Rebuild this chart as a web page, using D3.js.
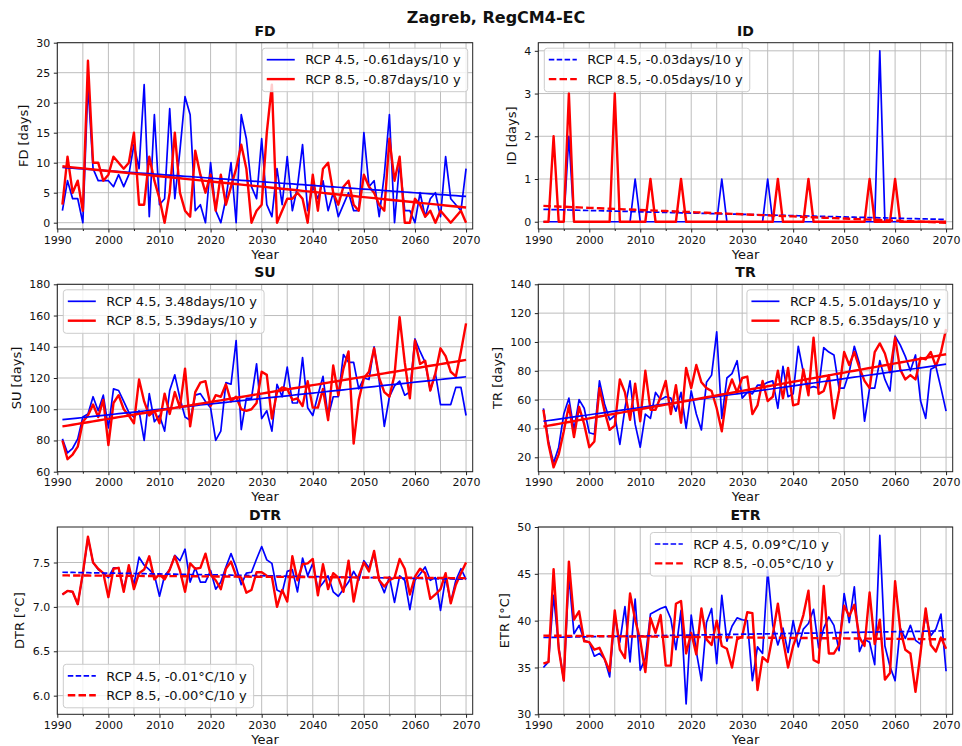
<!DOCTYPE html>
<html>
<head>
<meta charset="utf-8">
<script src="https://cdn.jsdelivr.net/npm/d3@7"></script>
<style>
  body { margin: 0; background: #fff; }
  text { font-family: "DejaVu Sans", sans-serif; fill: #111; }
</style>
</head>
<body>
<script>
// years of the series
const years = d3.range(1991, 2071);
const xTicks = [1990, 2000, 2010, 2020, 2030, 2040, 2050, 2060, 2070];
const xGrid = d3.range(1990, 2071, 5);

// FD - frost days
const fd45 = [2, 7, 4, 4, 0, 23, 9, 7, 7, 7,
  6, 8, 6, 8, 13, 9, 23, 1, 18, 3,
  4, 19, 4, 12, 21, 18, 2, 3, 0, 10,
  2, 0, 4, 10, 0, 18, 14, 6, 4, 14,
  3, 1, 9, 3, 11, 2, 6, 13, 2, 6,
  4, 7, 2, 5, 1, 3, 5, 2, 2, 15,
  6, 7, 1, 8, 18, 0, 10, 2, 2, 0,
  5, 1, 4, 5, 1, 11, 4, 3, 2, 9];
const fd85 = [3, 11, 5, 7, 2, 27, 10, 10, 7, 8,
  11, 10, 9, 10, 15, 3, 3, 11, 7, 4,
  0, 5, 15, 5, 2, 1, 12, 8, 5, 8,
  2, 8, 3, 6, 9, 13, 9, 0, 2, 3,
  15, 23, 0, 2, 4, 4, 5, 4, 0, 8,
  2, 9, 10, 5, 3, 6, 7, 3, 2, 8,
  6, 5, 3, 2, 14, 7, 11, 0, 0, 4,
  3, 1, 2, 0, 2, 1, 0, 1, 2, 0];

// ID - ice days
const id45 = [0, 0, 0, 0, 0, 2, 0, 0, 0, 0,
  0, 0, 0, 0, 0, 0, 0, 0, 1, 0,
  0, 0, 0, 0, 0, 0, 0, 0, 0, 0,
  0, 0, 0, 0, 0, 1, 0, 0, 0, 0,
  0, 0, 0, 0, 1, 0, 0, 0, 0, 0,
  0, 0, 0, 0, 0, 0, 0, 0, 0, 0,
  0, 0, 0, 0, 0, 0, 4, 0, 0, 0,
  0, 0, 0, 0, 0, 0, 0, 0, 0, 0];
const id85 = [0, 0, 2, 0, 0, 3, 0, 0, 0, 0,
  0, 0, 0, 0, 3, 0, 0, 0, 0, 0,
  0, 1, 0, 0, 0, 0, 0, 1, 0, 0,
  0, 0, 0, 0, 0, 0, 0, 0, 0, 0,
  0, 0, 0, 0, 0, 0, 1, 0, 0, 0,
  0, 0, 1, 0, 0, 0, 0, 0, 0, 0,
  0, 0, 0, 0, 1, 0, 0, 0, 0, 1,
  0, 0, 0, 0, 0, 0, 0, 0, 0, 0];

// SU - summer days
const su45 = [81, 72, 75, 81, 95, 97, 108, 99, 109, 88,
  113, 112, 105, 98, 95, 99, 80, 110, 92, 96,
  86, 112, 122, 107, 95, 93, 109, 110, 105, 101,
  80, 86, 117, 116, 144, 87, 107, 107, 129, 94,
  99, 86, 116, 108, 127, 104, 104, 133, 101, 96,
  109, 121, 95, 108, 108, 135, 130, 130, 113, 120,
  119, 140, 118, 89, 108, 115, 118, 109, 111, 145,
  137, 130, 112, 123, 103, 103, 103, 114, 114, 96];
const su85 = [80, 68, 71, 76, 92, 96, 103, 95, 106, 77,
  104, 109, 100, 96, 91, 119, 105, 96, 99, 91,
  110, 97, 111, 101, 126, 89, 111, 117, 118, 102,
  109, 108, 116, 105, 108, 100, 99, 100, 104, 124,
  122, 94, 111, 114, 113, 106, 107, 102, 118, 101,
  101, 113, 93, 128, 109, 126, 137, 78, 106, 120,
  124, 139, 120, 111, 108, 122, 159, 130, 107, 144,
  129, 131, 112, 123, 139, 134, 124, 121, 137, 155];

// TR - tropical nights
const tr45 = [54, 31, 16, 27, 50, 61, 39, 60, 54, 37,
  36, 73, 57, 46, 49, 29, 54, 73, 43, 27,
  50, 47, 65, 60, 62, 61, 52, 65, 40, 66,
  50, 39, 72, 77, 107, 47, 75, 78, 87, 61,
  65, 64, 70, 70, 72, 73, 54, 83, 62, 64,
  97, 79, 68, 69, 68, 96, 93, 91, 68, 68,
  79, 97, 85, 45, 68, 68, 87, 74, 66, 104,
  98, 90, 80, 91, 59, 47, 81, 83, 68, 52];
const tr85 = [53, 29, 13, 22, 38, 56, 34, 55, 43, 27,
  31, 68, 52, 39, 42, 74, 65, 46, 71, 45,
  80, 53, 53, 62, 73, 50, 70, 44, 82, 68,
  84, 72, 68, 66, 54, 38, 64, 74, 65, 75,
  76, 50, 56, 73, 59, 62, 80, 61, 82, 56,
  57, 81, 63, 103, 64, 66, 77, 47, 66, 93,
  84, 93, 82, 73, 68, 93, 99, 92, 79, 103,
  81, 74, 77, 74, 89, 88, 93, 83, 93, 109];

// DTR - diurnal temperature range
const dtr45 = [7.14, 7.18, 7.17, 7.03, 7.37, 7.78, 7.5, 7.42, 7.38, 7.33,
  7.44, 7.44, 7.2, 7.45, 7.25, 7.56, 7.47, 7.42, 7.36, 7.12,
  7.35, 7.42, 7.58, 7.52, 7.65, 7.28, 7.44, 7.28, 7.28, 7.41,
  7.2, 7.28, 7.45, 7.6, 7.45, 7.25, 7.38, 7.39, 7.54, 7.68,
  7.53, 7.49, 7.19, 7.16, 7.4, 7.42, 7.17, 7.55, 7.35, 7.49,
  7.2, 7.27, 7.35, 7.17, 7.12, 7.2, 7.28, 7.4, 7.3, 7.52,
  7.44, 7.6, 7.3, 7.16, 7.34, 7.05, 7.35, 7.3, 6.97, 7.3,
  7.37, 7.45, 7.3, 7.33, 6.96, 7.33, 7.05, 7.3, 7.43, 7.31];
const dtr85 = [7.14, 7.18, 7.17, 7.03, 7.38, 7.79, 7.5, 7.43, 7.38, 7.11,
  7.43, 7.44, 7.17, 7.47, 7.2, 7.38, 7.42, 7.57, 7.31, 7.37,
  7.31, 7.42, 7.57, 7.41, 7.17, 7.49, 7.43, 7.44, 7.6, 7.36,
  7.3, 7.2, 7.43, 7.51, 7.35, 7.33, 7.16, 7.19, 7.39, 7.39,
  7.35, 7.34, 7.0, 7.19, 7.06, 7.57, 7.3, 7.48, 7.49, 7.54,
  7.13, 7.48, 7.2, 7.38, 7.33, 7.17, 7.52, 7.06, 7.35, 7.5,
  7.4, 7.63, 7.3, 7.23, 7.3, 7.33, 7.54, 7.43, 7.14, 7.34,
  7.43, 7.38, 7.09, 7.14, 7.2, 7.38, 7.04, 7.25, 7.38, 7.5];

// ETR - extreme temperature range
const etr45 = [35.0, 35.6, 42.7, 37.2, 33.6, 44.8, 38.6, 39.5, 37.9, 37.7,
  36.2, 36.5, 35.9, 34.0, 40.5, 37.7, 41.5, 35.6, 42.3, 34.7,
  36.0, 40.7, 41.0, 41.3, 41.5, 40.2, 36.9, 41.1, 31.1, 40.6,
  36.7, 33.6, 39.8, 41.3, 35.4, 42.7, 37.8, 39.4, 40.3, 40.1,
  40.0, 33.6, 37.2, 36.5, 45.4, 39.5, 37.4, 39.2, 36.6, 40.0,
  37.2, 39.1, 39.7, 41.2, 37.1, 39.2, 40.4, 39.5, 36.8, 42.9,
  39.8, 43.6, 36.7, 38.0, 37.7, 35.3, 49.1, 37.3, 35.1, 33.6,
  39.2, 38.1, 39.5, 37.9, 37.5, 40.5, 38.4, 39.1, 40.7, 34.6];
const etr85 = [35.4, 35.6, 45.5, 37.0, 33.6, 46.3, 40.1, 41.0, 37.8, 37.7,
  36.9, 37.1, 35.9, 34.6, 41.1, 36.9, 36.0, 42.9, 40.1, 37.9,
  34.5, 40.3, 38.7, 40.6, 35.2, 35.2, 41.8, 42.1, 36.5, 38.7,
  36.4, 41.3, 38.0, 37.4, 40.0, 37.3, 37.0, 35.0, 38.0, 38.3,
  40.9, 40.8, 32.6, 36.1, 35.6, 38.5, 41.8, 38.0, 35.0, 37.3,
  38.8, 40.6, 43.2, 35.8, 35.5, 43.7, 36.5, 36.5, 37.4, 41.6,
  40.5, 41.7, 38.2, 37.3, 43.0, 37.5, 40.1, 33.7, 34.4, 44.2,
  39.1, 36.9, 36.5, 32.4, 36.6, 41.3, 37.4, 36.7, 38.2, 37.0];

// linear trends: value in 1991 and change per 10 years [RCP4.5, RCP8.5]
const trendStart = { FD: [9.2, 9.4], ID: [0.29, 0.37], SU: [93.3, 89.0], TR: [45.0, 41.3], DTR: [7.39, 7.355], ETR: [38.2, 38.4] };
const trendSlope = { FD: [-0.61, -0.87], ID: [-0.03, -0.05], SU: [3.48, 5.39], TR: [5.01, 6.35], DTR: [-0.01, -0.004], ETR: [0.09, -0.05] };

const legendText = {
  FD: ["RCP 4.5, -0.61days/10 y", "RCP 8.5, -0.87days/10 y"],
  ID: ["RCP 4.5, -0.03days/10 y", "RCP 8.5, -0.05days/10 y"],
  SU: ["RCP 4.5, 3.48days/10 y", "RCP 8.5, 5.39days/10 y"],
  TR: ["RCP 4.5, 5.01days/10 y", "RCP 8.5, 6.35days/10 y"],
  DTR: ["RCP 4.5, -0.01°C/10 y", "RCP 8.5, -0.00°C/10 y"],
  ETR: ["RCP 4.5, 0.09°C/10 y", "RCP 8.5, -0.05°C/10 y"]
};

const yLabels = { FD: "FD [days]", ID: "ID [days]", SU: "SU [days]", TR: "TR [days]", DTR: "DTR [°C]", ETR: "ETR [°C]" };
const yTicks = {
  FD: [0, 5, 10, 15, 20, 25, 30],
  ID: [0, 1, 2, 3, 4],
  SU: [60, 80, 100, 120, 140, 160, 180],
  TR: [20, 40, 60, 80, 100, 120, 140],
  DTR: [6.0, 6.5, 7.0, 7.5],
  ETR: [30, 35, 40, 45, 50]
};
const yDomain = { FD: [-1.05, 30], ID: [-0.17, 4.19], SU: [60, 180], TR: [10, 140], DTR: [5.79, 7.9], ETR: [30, 50] };

// layout
const width = 962, height = 746;
const cols = [[57.3, 472.7], [538.3, 952.7]];
const rows = [[42.7, 229], [284.3, 471.7], [527, 714.3]];

const panels = [
  { key: "FD", s: [fd45, fd85], col: 0, row: 0, leg: "upper right", dashed: false, fmt: d3.format("d") },
  { key: "ID", s: [id45, id85], col: 1, row: 0, leg: "upper left", dashed: true, fmt: d3.format("d") },
  { key: "SU", s: [su45, su85], col: 0, row: 1, leg: "upper left", dashed: false, fmt: d3.format("d") },
  { key: "TR", s: [tr45, tr85], col: 1, row: 1, leg: "upper right", dashed: false, fmt: d3.format("d") },
  { key: "DTR", s: [dtr45, dtr85], col: 0, row: 2, leg: "lower left", dashed: true, fmt: d3.format(".1f") },
  { key: "ETR", s: [etr45, etr85], col: 1, row: 2, leg: "upper center", dashed: true, fmt: d3.format("d") }
];

const colors = ["#0000ff", "#ff0000"];
const lineW = [1.7, 2.4];
const dashes = ["5.5,2.4", "7.5,3.2"];

const svg = d3.select("body").append("svg")
  .attr("width", width)
  .attr("height", height);

svg.append("text")
  .attr("x", 496)
  .attr("y", 23)
  .attr("text-anchor", "middle")
  .attr("font-size", "16px")
  .attr("font-weight", "bold")
  .text("Zagreb, RegCM4-EC");

panels.forEach(function(p) {
  const [x0, x1] = cols[p.col];
  const [y0, y1] = rows[p.row];

  const x = d3.scaleLinear().domain([1990, 2071.3]).range([x0, x1]);
  const y = d3.scaleLinear().domain(yDomain[p.key]).range([y1, y0]);

  const g = svg.append("g");

  // grid
  g.append("g").selectAll("line").data(xGrid).enter().append("line")
    .attr("x1", d => x(d)).attr("x2", d => x(d))
    .attr("y1", y0).attr("y2", y1)
    .attr("stroke", "#bdbdbd").attr("stroke-width", 1);
  g.append("g").selectAll("line").data(yTicks[p.key]).enter().append("line")
    .attr("x1", x0).attr("x2", x1)
    .attr("y1", d => y(d)).attr("y2", d => y(d))
    .attr("stroke", "#bdbdbd").attr("stroke-width", 1);

  // data lines
  const line = d3.line().x((d, i) => x(years[i])).y(d => y(d));
  p.s.forEach(function(s, k) {
    g.append("path")
      .datum(s)
      .attr("d", line)
      .attr("fill", "none")
      .attr("stroke", colors[k])
      .attr("stroke-width", lineW[k])
      .attr("stroke-linejoin", "round");
  });

  // trend lines
  [0, 1].forEach(function(k) {
    const a = trendStart[p.key][k], b = trendSlope[p.key][k];
    const tr = years.map(yr => a + b * (yr - 1991) / 10);
    g.append("path")
      .datum(tr)
      .attr("d", line)
      .attr("fill", "none")
      .attr("stroke", colors[k])
      .attr("stroke-width", lineW[k])
      .attr("stroke-dasharray", p.dashed ? dashes[k] : null);
  });

  // axes
  const ax = g.append("g")
    .attr("transform", "translate(0," + y1 + ")")
    .call(d3.axisBottom(x).tickValues(xTicks).tickSize(3.5).tickPadding(3.5).tickFormat(d3.format("d")));
  g.append("g")
    .attr("transform", "translate(0," + y1 + ")")
    .call(d3.axisBottom(x).tickValues(xGrid.filter(d => d % 10 !== 0)).tickSize(2).tickFormat(""))
    .select(".domain").remove();
  const ay = g.append("g")
    .attr("transform", "translate(" + x0 + ",0)")
    .call(d3.axisLeft(y).tickValues(yTicks[p.key]).tickSize(3.5).tickPadding(3.5).tickFormat(p.fmt));
  [ax, ay].forEach(a => {
    a.select(".domain").remove();
    a.selectAll("text").attr("font-size", "11px").attr("font-family", "DejaVu Sans").attr("fill", "#111");
  });
  g.selectAll(".tick line").attr("stroke", "#222");

  // frame
  g.append("rect")
    .attr("x", x0).attr("y", y0)
    .attr("width", x1 - x0).attr("height", y1 - y0)
    .attr("fill", "none").attr("stroke", "#222").attr("stroke-width", 1);

  // labels
  let maxW = 0;
  ay.selectAll("text").each(function() { maxW = Math.max(maxW, this.getComputedTextLength()); });
  g.append("text")
    .attr("transform", "translate(" + (x0 - 7.5 - maxW - 8) + "," + ((y0 + y1) / 2) + ") rotate(-90)")
    .attr("text-anchor", "middle")
    .attr("font-size", "13px")
    .text(yLabels[p.key]);
  g.append("text")
    .attr("x", (x0 + x1) / 2).attr("y", y1 + 29.5)
    .attr("text-anchor", "middle")
    .attr("font-size", "13px")
    .text("Year");
  g.append("text")
    .attr("x", (x0 + x1) / 2).attr("y", y0 - 7)
    .attr("text-anchor", "middle")
    .attr("font-size", "14px")
    .attr("font-weight", "bold")
    .text(p.key);

  // legend
  const lg = g.append("g");
  const box = lg.append("rect");
  const texts = legendText[p.key].map(t => lg.append("text").attr("font-size", "13px").text(t));
  const tw = d3.max(texts, t => t.node().getComputedTextLength());
  const bw = 43 + tw + 7, bh = 43.5;
  let bx, by;
  if (p.leg === "upper right") { bx = x1 - 5 - bw; by = y0 + 5.5; }
  else if (p.leg === "upper left") { bx = x0 + 6; by = y0 + 5.5; }
  else if (p.leg === "lower left") { bx = x0 + 6; by = y1 - 6.5 - bh; }
  else { bx = (x0 + x1) / 2 - bw / 2; by = y0 + 5.5; }
  box.attr("x", bx).attr("y", by).attr("width", bw).attr("height", bh)
    .attr("rx", 3).attr("fill", "#fff").attr("fill-opacity", 0.8)
    .attr("stroke", "#cccccc").attr("stroke-width", 1);
  texts.forEach(function(t, k) {
    const cy = by + 11.5 + k * 19.4;
    t.attr("x", bx + 43).attr("y", cy + 4.7);
    lg.append("line")
      .attr("x1", bx + 4.5).attr("x2", bx + 32.5)
      .attr("y1", cy).attr("y2", cy)
      .attr("stroke", colors[k]).attr("stroke-width", lineW[k])
      .attr("stroke-dasharray", p.dashed ? dashes[k] : null);
  });
});
</script>
</body>
</html>
